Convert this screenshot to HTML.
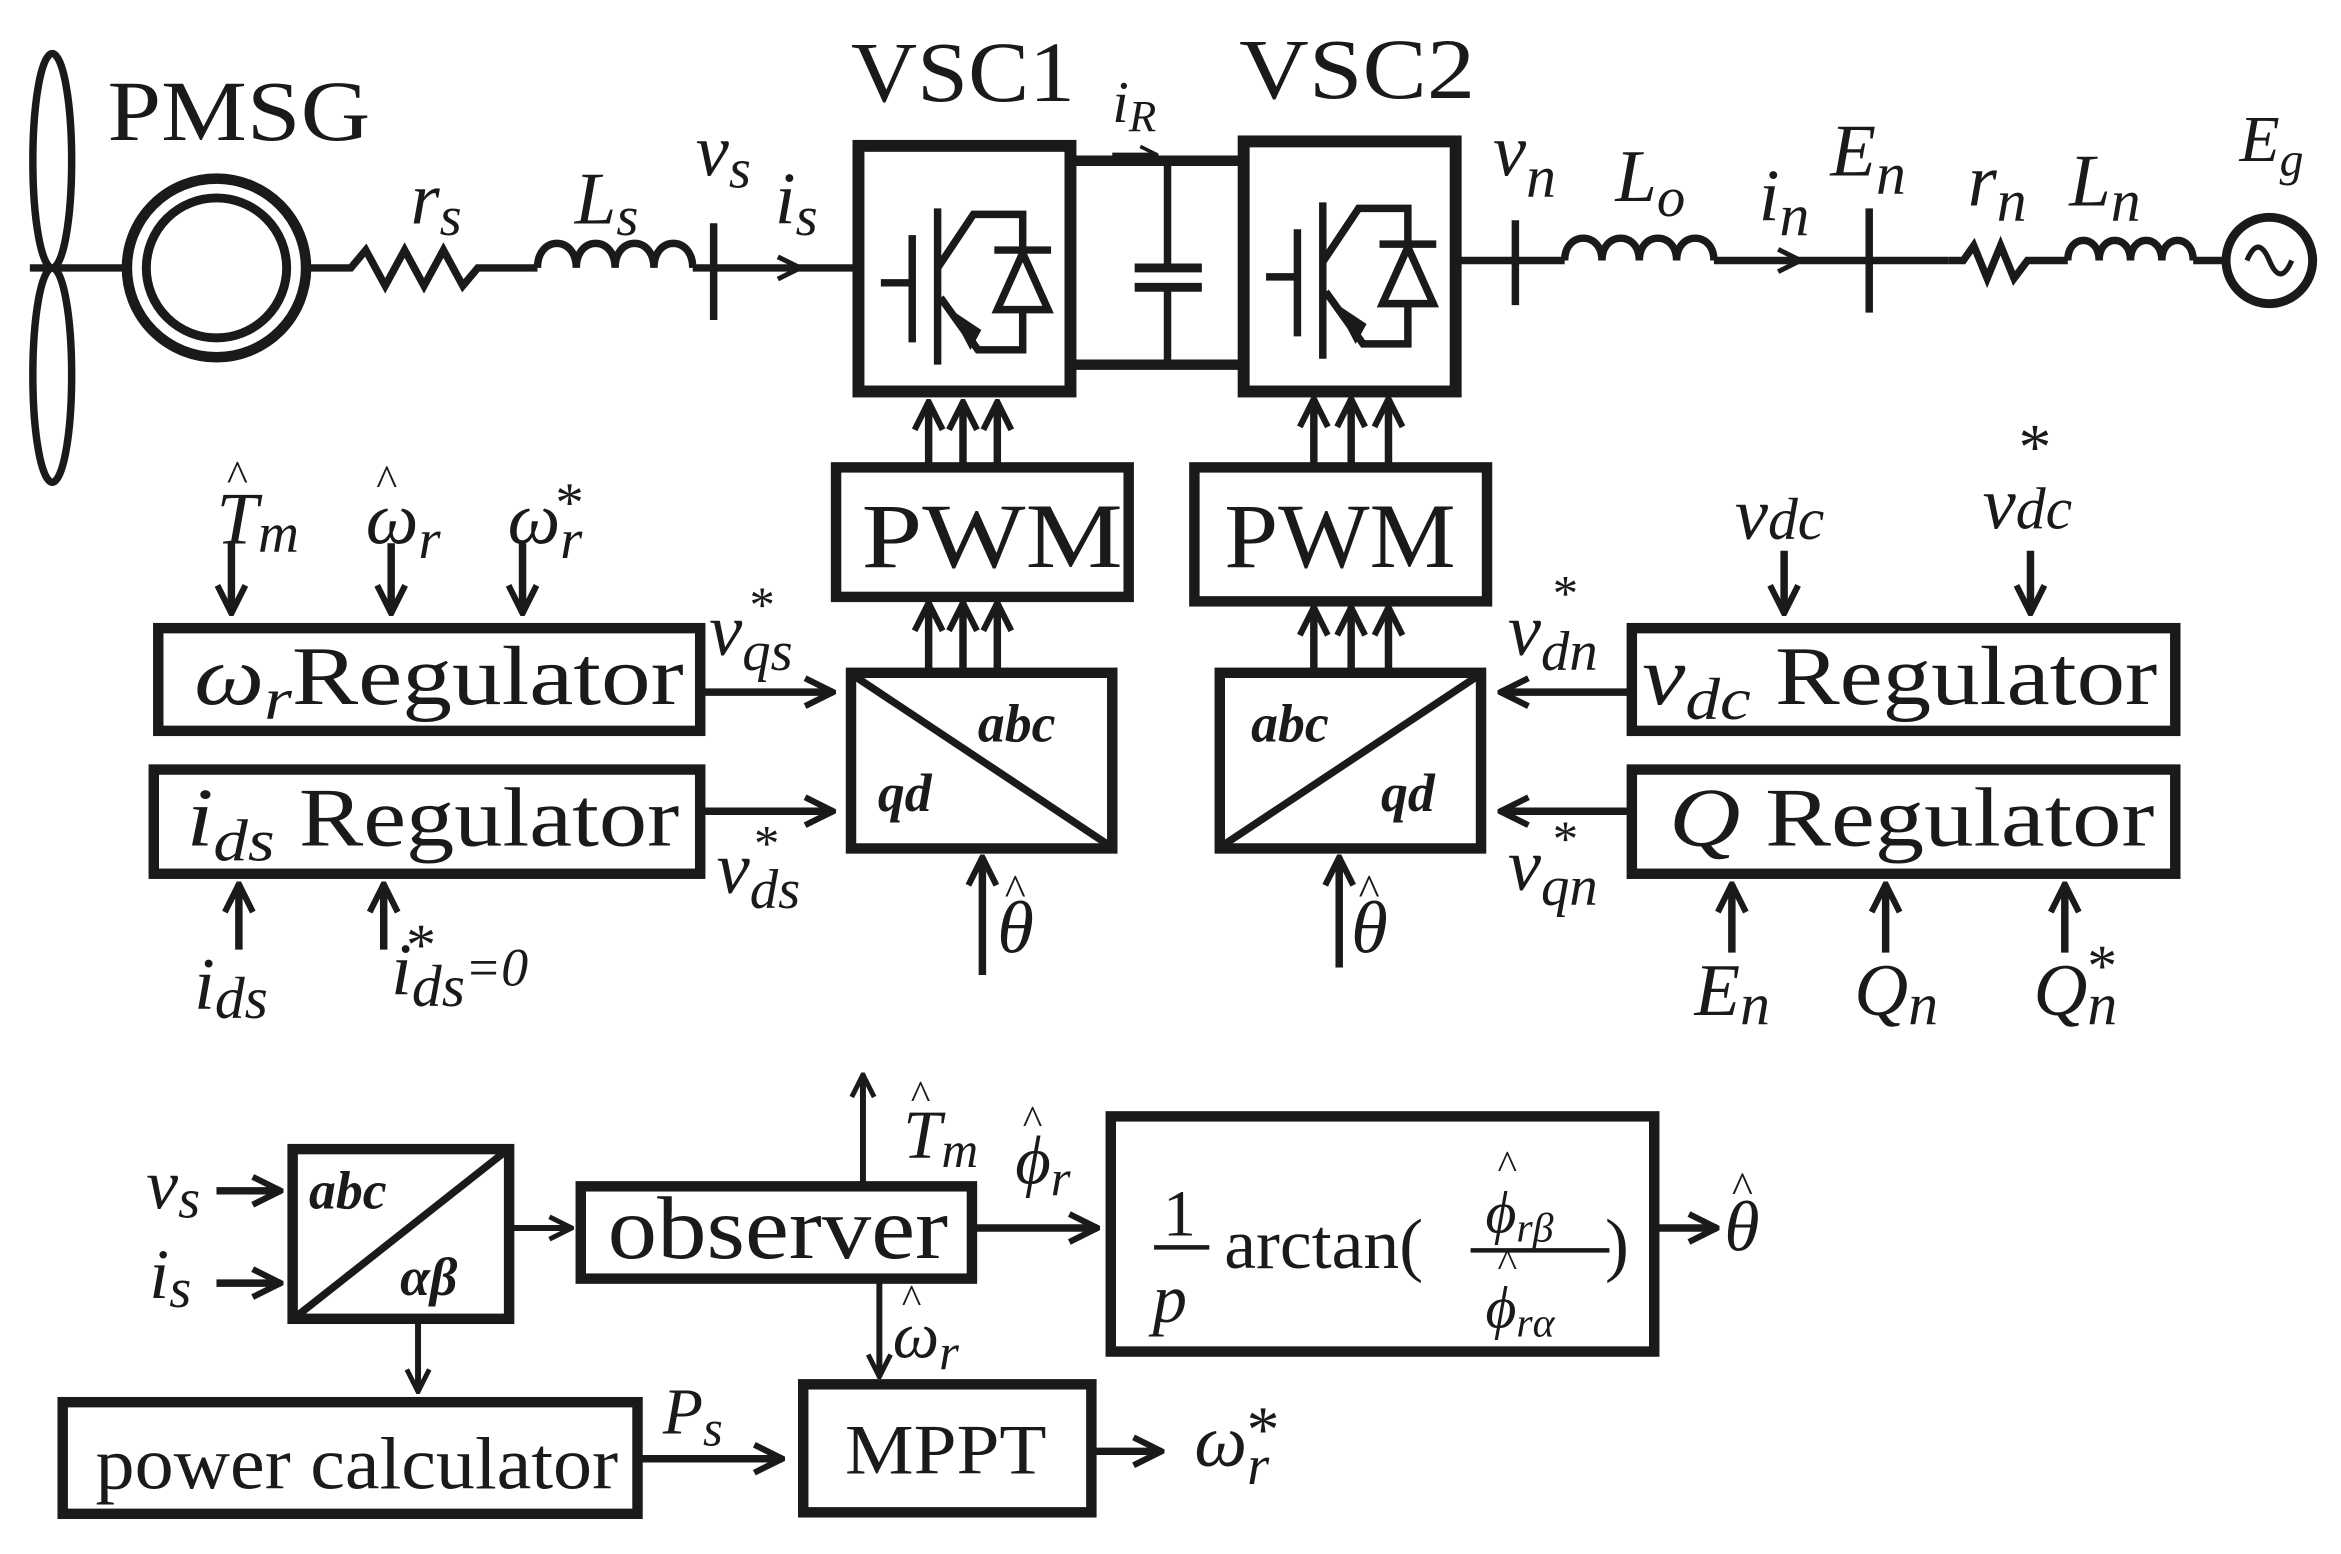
<!DOCTYPE html>
<html><head><meta charset="utf-8"><style>
html,body{margin:0;padding:0;background:#fff;}
svg{display:block;}
text{font-family:"Liberation Serif",serif;fill:#1a1a1a;}
.i{font-style:italic;}
.n{font-style:normal;}
.b{font-family:"Liberation Sans",sans-serif;font-weight:bold;font-style:italic;}
</style></head><body>
<svg width="2341" height="1554" viewBox="0 0 1568 1044" preserveAspectRatio="none" xmlns="http://www.w3.org/2000/svg">
<defs>
<marker id="a" viewBox="0 0 12 12" refX="11" refY="6" markerWidth="4.5" markerHeight="4.5" orient="auto" markerUnits="strokeWidth">
<path d="M1,1 L11,6 L1,11" fill="none" stroke="#1a1a1a" stroke-width="2.2"/>
</marker>
</defs>
<g stroke="#1a1a1a" fill="none" stroke-width="5">
<ellipse cx="35" cy="108" rx="13" ry="72"/>
<ellipse cx="35" cy="252" rx="13" ry="72"/>
<line x1="20" y1="180" x2="83" y2="180"/>
<circle cx="145" cy="180" r="60" stroke-width="7"/>
<circle cx="145" cy="180" r="47" stroke-width="6"/>
<polyline points="205,180 235,180 245,168 258,192 271,168 284,192 297,168 310,192 320,180 360,180"/>
<path d="M360,180 c0,-22 26,-22 26,0 c0,-22 26,-22 26,0 c0,-22 26,-22 26,0 c0,-22 26,-22 26,0" />
<line x1="464" y1="180" x2="572" y2="180"/>
<line x1="478" y1="150" x2="478" y2="215"/>
<line x1="505" y1="180" x2="536" y2="180" marker-end="url(#a)" stroke-width="4"/>
<rect x="575" y="98" width="142" height="165" stroke-width="8"/>
<rect x="833" y="95" width="142" height="168" stroke-width="8"/>
<line x1="717" y1="108" x2="833" y2="108" stroke-width="7"/>
<line x1="717" y1="245" x2="833" y2="245" stroke-width="7"/>
<line x1="745" y1="104" x2="775" y2="104" marker-end="url(#a)" stroke-width="3"/>
<line x1="782" y1="110" x2="782" y2="180"/>
<line x1="760" y1="180" x2="805" y2="180" stroke-width="6"/>
<line x1="760" y1="193" x2="805" y2="193" stroke-width="6"/>
<line x1="782" y1="193" x2="782" y2="245"/>
<line x1="975" y1="175" x2="1048" y2="175"/>
<line x1="1015" y1="148" x2="1015" y2="205"/>
<path d="M1048,175 c0,-20 25,-20 25,0 c0,-20 25,-20 25,0 c0,-20 25,-20 25,0 c0,-20 25,-20 25,0"/>
<line x1="1148" y1="175" x2="1305" y2="175"/>
<line x1="1178" y1="175" x2="1206" y2="175" marker-end="url(#a)" stroke-width="4"/>
<line x1="1252" y1="140" x2="1252" y2="210"/>
<polyline points="1305,175 1315,175 1322,165 1331,187 1340,165 1349,187 1358,175 1385,175"/>
<path d="M1385,175 c0,-18 21,-18 21,0 c0,-18 21,-18 21,0 c0,-18 21,-18 21,0 c0,-18 21,-18 21,0"/>
<line x1="1469" y1="175" x2="1490" y2="175"/>
<circle cx="1520" cy="175" r="29" stroke-width="6"/>
<path d="M1505,175 c5,-12 10,-12 15,0 c5,12 10,12 15,0" stroke-width="3.5"/>
</g>
<g stroke="#1a1a1a" fill="none" stroke-width="5">
<g id="igbt">
<line x1="590" y1="190" x2="609" y2="190"/>
<line x1="611" y1="158" x2="611" y2="230" />
<line x1="628" y1="140" x2="628" y2="245"/>
<polyline points="628,180 652,144 685,144 685,168"/>
<line x1="666" y1="168" x2="704" y2="168"/>
<path d="M685,170 L668,208 L702,208 Z"/>
<polyline points="685,208 685,235 655,235 630,200"/>
<path d="M650,233 L638,210 L656,222 Z" fill="#1a1a1a" stroke-width="2"/>
</g>
<use href="#igbt" x="258" y="-4"/>
</g>
<g stroke="#1a1a1a" stroke-width="5" fill="none">
<line x1="622" y1="312" x2="622" y2="270" marker-end="url(#a)"/>
<line x1="645" y1="312" x2="645" y2="270" marker-end="url(#a)"/>
<line x1="668" y1="312" x2="668" y2="270" marker-end="url(#a)"/>
<line x1="880" y1="312" x2="880" y2="268" marker-end="url(#a)"/>
<line x1="905" y1="312" x2="905" y2="268" marker-end="url(#a)"/>
<line x1="930" y1="312" x2="930" y2="268" marker-end="url(#a)"/>
<line x1="622" y1="450" x2="622" y2="405" marker-end="url(#a)"/>
<line x1="645" y1="450" x2="645" y2="405" marker-end="url(#a)"/>
<line x1="668" y1="450" x2="668" y2="405" marker-end="url(#a)"/>
<line x1="880" y1="450" x2="880" y2="408" marker-end="url(#a)"/>
<line x1="905" y1="450" x2="905" y2="408" marker-end="url(#a)"/>
<line x1="930" y1="450" x2="930" y2="408" marker-end="url(#a)"/>
<rect x="560" y="314" width="196" height="87" stroke-width="7"/>
<rect x="800" y="314" width="196" height="90" stroke-width="7"/>
<rect x="570" y="452" width="175" height="118" stroke-width="7"/>
<line x1="572" y1="454" x2="743" y2="568" stroke-width="5"/>
<rect x="817" y="452" width="175" height="118" stroke-width="7"/>
<line x1="819" y1="568" x2="990" y2="454" stroke-width="5"/>
<rect x="106" y="422" width="363" height="69" stroke-width="7"/>
<rect x="103" y="517" width="366" height="70" stroke-width="7"/>
<rect x="1093" y="422" width="364" height="69" stroke-width="7"/>
<rect x="1093" y="517" width="364" height="70" stroke-width="7"/>
<line x1="472" y1="465" x2="558" y2="465" marker-end="url(#a)"/>
<line x1="472" y1="545" x2="558" y2="545" marker-end="url(#a)"/>
<line x1="1090" y1="465" x2="1005" y2="465" marker-end="url(#a)"/>
<line x1="1090" y1="545" x2="1005" y2="545" marker-end="url(#a)"/>
<line x1="658" y1="655" x2="658" y2="576" marker-end="url(#a)"/>
<line x1="897" y1="650" x2="897" y2="576" marker-end="url(#a)"/>
<line x1="155" y1="365" x2="155" y2="412" marker-end="url(#a)"/>
<line x1="262" y1="365" x2="262" y2="412" marker-end="url(#a)"/>
<line x1="350" y1="365" x2="350" y2="412" marker-end="url(#a)"/>
<line x1="160" y1="638" x2="160" y2="594" marker-end="url(#a)"/>
<line x1="257" y1="638" x2="257" y2="594" marker-end="url(#a)"/>
<line x1="1195" y1="370" x2="1195" y2="412" marker-end="url(#a)"/>
<line x1="1360" y1="370" x2="1360" y2="412" marker-end="url(#a)"/>
<line x1="1160" y1="640" x2="1160" y2="594" marker-end="url(#a)"/>
<line x1="1263" y1="640" x2="1263" y2="594" marker-end="url(#a)"/>
<line x1="1383" y1="640" x2="1383" y2="594" marker-end="url(#a)"/>
<rect x="196" y="772" width="145" height="114" stroke-width="7"/>
<line x1="199" y1="884" x2="338" y2="774" stroke-width="5"/>
<line x1="145" y1="800" x2="188" y2="800" marker-end="url(#a)"/>
<line x1="145" y1="862" x2="188" y2="862" marker-end="url(#a)"/>
<line x1="343" y1="825" x2="383" y2="825" marker-end="url(#a)" stroke-width="4"/>
<rect x="389" y="797" width="262" height="62" stroke-width="7"/>
<line x1="578" y1="797" x2="578" y2="722" marker-end="url(#a)" stroke-width="4"/>
<line x1="652" y1="825" x2="735" y2="825" marker-end="url(#a)"/>
<rect x="744" y="750" width="364" height="158" stroke-width="7"/>
<line x1="1110" y1="825" x2="1150" y2="825" marker-end="url(#a)"/>
<line x1="589" y1="860" x2="589" y2="925" marker-end="url(#a)" stroke-width="4"/>
<line x1="280" y1="888" x2="280" y2="935" marker-end="url(#a)" stroke-width="4"/>
<rect x="42" y="942" width="385" height="75" stroke-width="7"/>
<rect x="538" y="930" width="193" height="86" stroke-width="7"/>
<line x1="430" y1="980" x2="524" y2="980" marker-end="url(#a)"/>
<line x1="732" y1="975" x2="778" y2="975" marker-end="url(#a)"/>
<line x1="773" y1="838" x2="810" y2="838" stroke-width="3"/>
<line x1="985" y1="840" x2="1078" y2="840" stroke-width="3"/>
</g>
<g font-size="58">
<text x="72" y="94" textLength="176" lengthAdjust="spacingAndGlyphs">PMSG</text>
<text x="570" y="68" textLength="150" lengthAdjust="spacingAndGlyphs">VSC1</text>
<text x="830" y="66" textLength="158" lengthAdjust="spacingAndGlyphs">VSC2</text>
<text x="577" y="381" font-size="62" textLength="175" lengthAdjust="spacingAndGlyphs">PWM</text>
<text x="820" y="381" font-size="62" textLength="155" lengthAdjust="spacingAndGlyphs">PWM</text>
</g>
<g class="i" font-size="50">
<text x="275" y="150">r<tspan font-size="38" dy="8">s</tspan></text>
<text x="385" y="150">L<tspan font-size="38" dy="8">s</tspan></text>
<text x="466" y="118">v<tspan font-size="38" dy="8">s</tspan></text>
<text x="519" y="150">i<tspan font-size="38" dy="8">s</tspan></text>
<text x="745" y="82" font-size="40">i<tspan font-size="30" dy="6">R</tspan></text>
<text x="1000" y="118">v<tspan font-size="40" dy="14">n</tspan></text>
<text x="1082" y="135">L<tspan font-size="38" dy="10">o</tspan></text>
<text x="1178" y="148">i<tspan font-size="40" dy="10">n</tspan></text>
<text x="1226" y="118">E<tspan font-size="40" dy="12">n</tspan></text>
<text x="1318" y="138">r<tspan font-size="40" dy="10">n</tspan></text>
<text x="1386" y="138">L<tspan font-size="40" dy="10">n</tspan></text>
<text x="1500" y="108" font-size="44">E<tspan font-size="32" dy="10">g</tspan></text>
</g>
<g font-size="56">
<text x="130" y="473" textLength="328" lengthAdjust="spacingAndGlyphs"><tspan class="i">ω<tspan font-size="40" dy="10">r</tspan></tspan><tspan dy="-10">Regulator</tspan></text>
<text x="125" y="568" textLength="330" lengthAdjust="spacingAndGlyphs"><tspan class="i">i<tspan font-size="40" dy="10">ds</tspan></tspan><tspan dy="-10"> Regulator</tspan></text>
<text x="1100" y="473" textLength="345" lengthAdjust="spacingAndGlyphs"><tspan class="i">v<tspan font-size="40" dy="10">dc</tspan></tspan><tspan dy="-10"> Regulator</tspan></text>
<text x="1118" y="568" textLength="325" lengthAdjust="spacingAndGlyphs"><tspan class="i">Q</tspan>  Regulator</text>
</g>
<g font-size="50" class="i">
<text x="145" y="365">T<tspan font-size="38" dy="6">m</tspan></text>
<text x="152" y="330" font-size="30" class="n">^</text>
<text x="245" y="365">ω<tspan font-size="38" dy="10">r</tspan></text>
<text x="252" y="333" font-size="30" class="n">^</text>
<text x="340" y="365">ω<tspan font-size="38" dy="10">r</tspan></text>
<text x="372" y="350" font-size="38" class="n">*</text>
<text x="475" y="440">v<tspan font-size="38" dy="10">qs</tspan></text>
<text x="502" y="418" font-size="34" class="n">*</text>
<text x="480" y="600">v<tspan font-size="38" dy="10">ds</tspan></text>
<text x="505" y="578" font-size="34" class="n">*</text>
<text x="130" y="678">i<tspan font-size="40" dy="6">ds</tspan></text>
<text x="262" y="668">i<tspan font-size="40" dy="8">ds</tspan><tspan dy="-14" font-size="36">=0</tspan></text>
<text x="272" y="648" font-size="40" class="n">*</text>
<text x="668" y="640">θ</text>
<text x="673" y="608" font-size="30" class="n">^</text>
<text x="905" y="640">θ</text>
<text x="910" y="608" font-size="30" class="n">^</text>
<text x="1010" y="440">v<tspan font-size="38" dy="10">dn</tspan></text>
<text x="1040" y="410" font-size="34" class="n">*</text>
<text x="1010" y="598">v<tspan font-size="38" dy="10">qn</tspan></text>
<text x="1040" y="575" font-size="34" class="n">*</text>
<text x="1162" y="362">v<tspan font-size="40">dc</tspan></text>
<text x="1328" y="355">v<tspan font-size="40">dc</tspan></text>
<text x="1352" y="315" font-size="44" class="n">*</text>
<text x="1135" y="682">E<tspan font-size="40" dy="6">n</tspan></text>
<text x="1242" y="682">Q<tspan font-size="40" dy="6">n</tspan></text>
<text x="1362" y="682">Q<tspan font-size="40" dy="6">n</tspan></text>
<text x="1398" y="662" font-size="40" class="n">*</text>
</g>
<g class="b" font-size="36">
<text x="655" y="498">abc</text>
<text x="588" y="545">qd</text>
<text x="838" y="498">abc</text>
<text x="925" y="545">qd</text>
<text x="207" y="812">abc</text>
<text x="268" y="870">αβ</text>
</g>
<g font-size="60">
<text x="407" y="845" textLength="228" lengthAdjust="spacingAndGlyphs">observer</text>
<text x="64" y="1000" font-size="50" textLength="350" lengthAdjust="spacingAndGlyphs">power calculator</text>
<text x="566" y="990" font-size="48" textLength="135" lengthAdjust="spacingAndGlyphs">MPPT</text>
<text x="779" y="830" font-size="44">1</text>
<text x="772" y="888" font-size="46" class="i">p</text>
<text x="820" y="852" font-size="48">arctan(</text>
<text x="1075" y="852" font-size="48">)</text>
</g>
<g class="i" font-size="48">
<text x="995" y="828" font-size="40">ϕ<tspan font-size="28" dy="6">rβ</tspan></text>
<text x="1003" y="792" font-size="28" class="n">^</text>
<text x="995" y="892" font-size="40">ϕ<tspan font-size="28" dy="6">rα</tspan></text>
<text x="1003" y="858" font-size="28" class="n">^</text>
<text x="1155" y="840">θ</text>
<text x="1160" y="808" font-size="30" class="n">^</text>
<text x="98" y="812">v<tspan font-size="38" dy="6">s</tspan></text>
<text x="100" y="872">i<tspan font-size="38" dy="6">s</tspan></text>
<text x="605" y="778" font-size="46">T<tspan font-size="34" dy="6">m</tspan></text>
<text x="610" y="745" font-size="28" class="n">^</text>
<text x="680" y="795" font-size="46">ϕ<tspan font-size="34" dy="8">r</tspan></text>
<text x="685" y="762" font-size="28" class="n">^</text>
<text x="598" y="912" font-size="44">ω<tspan font-size="34" dy="8">r</tspan></text>
<text x="604" y="882" font-size="28" class="n">^</text>
<text x="444" y="963" font-size="44">P<tspan font-size="34" dy="8">s</tspan></text>
<text x="800" y="985" font-size="50">ω<tspan font-size="38" dy="12">r</tspan></text>
<text x="835" y="975" font-size="44" class="n">*</text>
</g>
</svg>
</body></html>
